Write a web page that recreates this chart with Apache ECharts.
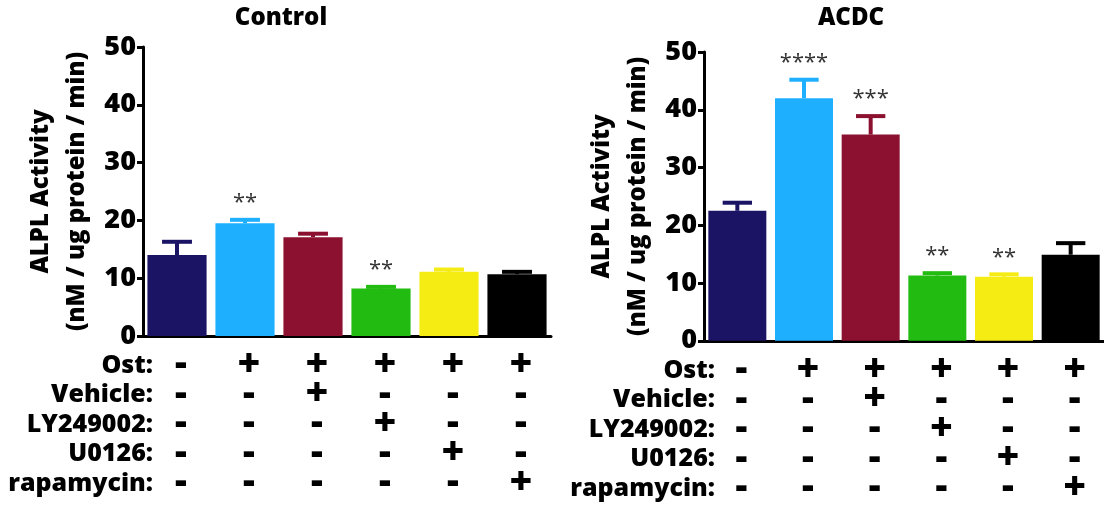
<!DOCTYPE html>
<html>
<head>
<meta charset="utf-8">
<script src="https://cdn.jsdelivr.net/npm/echarts@6/dist/echarts.min.js"></script>
<style>
  html, body { margin: 0; padding: 0; background: #fff; }
  #main { width: 1104px; height: 507px; }
</style>
</head>
<body>
<div id="main"></div>
<script>
// groups (not shown, used as category keys)
var groups = ['Untreated', 'Ost', 'Ost+Vehicle', 'Ost+LY249002', 'Ost+U0126', 'Ost+rapamycin'];

// treatment table under the bars
var rowNames = ['Ost:', 'Vehicle:', 'LY249002:', 'U0126:', 'rapamycin:'];
var ost      = ['-', '+', '+', '+', '+', '+'];
var vehicle  = ['-', '-', '+', '-', '-', '-'];
var ly       = ['-', '-', '-', '+', '-', '-'];
var u0126    = ['-', '-', '-', '-', '+', '-'];
var rapa     = ['-', '-', '-', '-', '-', '+'];

// ALPL activity, mean and SEM
var controlMean = [14.0, 19.5, 17.1, 8.2, 11.1, 10.7];
var controlErr  = [2.3, 0.6, 0.6, 0.3, 0.4, 0.4];
var controlStars = ['', '**', '', '**', '', ''];

var acdcMean = [22.5, 42.0, 35.7, 11.3, 11.1, 14.9];
var acdcErr  = [1.4, 3.2, 3.2, 0.4, 0.4, 2.0];
var acdcStars = ['', '****', '***', '**', '**', ''];

var yTicks = [0, 10, 20, 30, 40, 50];

var barColors = ['#1b1464', '#1eb0ff', '#8c1030', '#22bb11', '#f5ec14', '#000000'];

var FONT = '"Open Sans", "DejaVu Sans", sans-serif';
var HEAVY = 900;

var myChart = echarts.init(document.getElementById('main'));

var tableRows = [ost, vehicle, ly, u0126, rapa];

function tableLabel(value, index) {
    return tableRows.map(function (r) {
        return r[index] === '+' ? '{p|+}' : '{m|-}';
    }).join('\n');
}

function errRenderer(stars) {
    return function (params, api) {
        var x = api.value(0), m = api.value(1), e = api.value(2);
        var base = api.coord([x, m]);
        var top = api.coord([x, m + e]);
        var half = api.size([1, 0])[0] * 0.22;
        var color = barColors[params.dataIndex];
        var st = { stroke: color, lineWidth: 4 };
        return {
            type: 'group',
            children: [
                { type: 'line', shape: { x1: base[0], y1: base[1], x2: top[0], y2: top[1] }, style: st },
                { type: 'line', shape: { x1: top[0] - half, y1: top[1], x2: top[0] + half, y2: top[1] }, style: st },
                { type: 'text', x: top[0], y: top[1] - 17,
                  style: { text: stars[params.dataIndex], align: 'center', verticalAlign: 'middle',
                           fontSize: 22, fontFamily: FONT, fill: '#333' } }
            ]
        };
    };
}

function xAxisFor(gi) {
    return {
        type: 'category', gridIndex: gi, data: groups,
        axisLine: { lineStyle: { color: '#000', width: 3 } },
        axisTick: { show: false },
        axisLabel: {
            formatter: tableLabel, margin: 14, interval: 0,
            rich: {
                p: { fontSize: 39, fontWeight: HEAVY, fontFamily: FONT, color: '#000', lineHeight: 29.5, padding: [0, 0, 0, 8] },
                m: { fontSize: 37, fontWeight: HEAVY, fontFamily: FONT, color: '#000', lineHeight: 29.5, padding: [0, 0, 0, 8] }
            }
        }
    };
}

function yAxisFor(gi) {
    return {
        type: 'value', gridIndex: gi, min: yTicks[0], max: yTicks[yTicks.length - 1], interval: 10,
        name: 'ALPL Activity\n(nM / ug protein / min)',
        nameLocation: 'middle', nameRotate: 90, nameGap: 48,
        nameTextStyle: { fontSize: 24, fontWeight: HEAVY, fontFamily: FONT, color: '#000', lineHeight: 36 },
        axisLine: { show: true, lineStyle: { color: '#000', width: 3 } },
        axisTick: { show: true, length: 6, lineStyle: { color: '#000', width: 3 } },
        axisLabel: { fontSize: 27, fontWeight: HEAVY, fontFamily: FONT, color: '#000', margin: 7 },
        splitLine: { show: false }
    };
}

function barSeries(gi, means) {
    return {
        type: 'bar', xAxisIndex: gi, yAxisIndex: gi, barCategoryGap: '13%',
        data: means.map(function (v, i) { return { value: v, itemStyle: { color: barColors[i] } }; }),
        z: 2
    };
}

function errSeries(gi, means, errs, stars) {
    return {
        type: 'custom', xAxisIndex: gi, yAxisIndex: gi,
        renderItem: errRenderer(stars),
        data: means.map(function (v, i) { return [i, v, errs[i]]; }),
        encode: { x: 0, y: 1 },
        z: 3
    };
}

function textEl(x, y, text, align, size) {
    return {
        type: 'text', x: x, y: y,
        style: { text: text, align: align, verticalAlign: 'top', fontSize: size, fontWeight: HEAVY,
                 fontFamily: FONT, fill: '#000', lineHeight: 29.5 }
    };
}

myChart.setOption({
    animation: false,
    grid: [
        { left: 143, top: 47, width: 408, bottom: 171 },
        { left: 704, top: 52, width: 408, bottom: 166 }
    ],
    xAxis: [xAxisFor(0), xAxisFor(1)],
    yAxis: [yAxisFor(0), yAxisFor(1)],
    series: [
        barSeries(0, controlMean), errSeries(0, controlMean, controlErr, controlStars),
        barSeries(1, acdcMean), errSeries(1, acdcMean, acdcErr, acdcStars)
    ],
    graphic: [
        textEl(281, 3, 'Control', 'center', 24),
        textEl(851, 3, 'ACDC', 'center', 24),
        textEl(153, 351, rowNames.join('\n'), 'right', 25),
        textEl(715, 356, rowNames.join('\n'), 'right', 25)
    ]
});
</script>
</body>
</html>
